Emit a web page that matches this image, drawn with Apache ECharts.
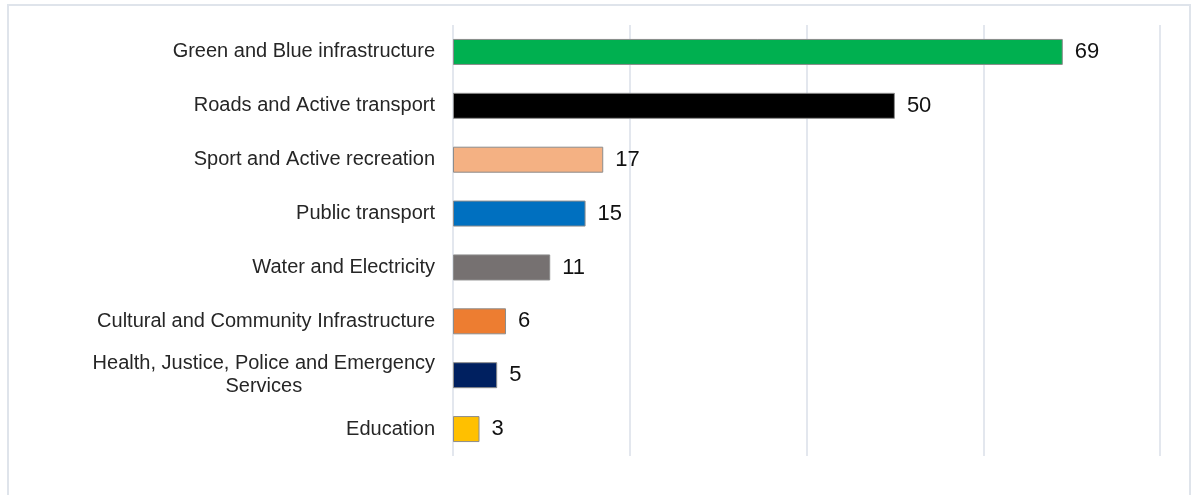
<!DOCTYPE html>
<html>
<head>
<meta charset="utf-8">
<script src="https://cdn.jsdelivr.net/npm/echarts@6/dist/echarts.min.js"></script>
<style>
  html, body { margin: 0; padding: 0; background: #ffffff; }
  #frame {
    position: absolute; left: 7px; top: 4px; width: 1184px; height: 500px;
    border: 2px solid #dfe4eb; box-sizing: border-box;
  }
  #chart { position: absolute; left: 0; top: 0; width: 1194px; height: 495px; }
</style>
</head>
<body>
<div id="frame"></div>
<div id="chart"></div>
<script>
// Project counts by infrastructure type
const categories = [
  'Green and Blue infrastructure',
  'Roads and Active transport',
  'Sport and Active recreation',
  'Public transport',
  'Water and Electricity',
  'Cultural and Community Infrastructure',
  'Health, Justice, Police and Emergency\nServices',
  'Education'
];
const values = [69, 50, 17, 15, 11, 6, 5, 3];
const barColors = ['#00b050', '#000000', '#f4b183', '#0070c0', '#767171', '#ed7d31', '#002060', '#ffc000'];
const axisMax = 80;
const axisStep = 20;

const font = '"Liberation Sans", Arial, Helvetica, sans-serif';

const chart = echarts.init(document.getElementById('chart'), null, { renderer: 'canvas' });
chart.setOption({
  animation: false,
  backgroundColor: 'transparent',
  grid: { left: 453, right: 34, top: 25, bottom: 39, containLabel: false },
  xAxis: {
    type: 'value',
    min: 0,
    max: axisMax,
    interval: axisStep,
    axisLabel: { show: false },
    axisLine: { show: false },
    axisTick: { show: false },
    splitLine: { show: true, lineStyle: { color: '#e3e7ee', width: 2 } }
  },
  yAxis: {
    type: 'category',
    inverse: true,
    data: categories,
    axisLine: { show: false },
    axisTick: { show: false },
    axisLabel: {
      margin: 18,
      color: '#262626',
      fontFamily: font,
      fontSize: 20,
      lineHeight: 23,
      formatter: function (v) {
        return v.split('\n').map(function (s) { return '{c|' + s + '}'; }).join('\n');
      },
      rich: {
        c: { align: 'center', color: '#262626', fontFamily: font, fontSize: 20, lineHeight: 23 }
      }
    }
  },
  series: [{
    type: 'bar',
    data: values.map(function (v, i) {
      return { value: v, itemStyle: { color: barColors[i] } };
    }),
    barWidth: 26,
    itemStyle: { borderColor: '#8c8c8c', borderWidth: 1 },
    label: {
      show: true,
      position: 'right',
      distance: 12,
      color: '#111111',
      fontFamily: font,
      fontSize: 22
    }
  }]
});
</script>
</body>
</html>
